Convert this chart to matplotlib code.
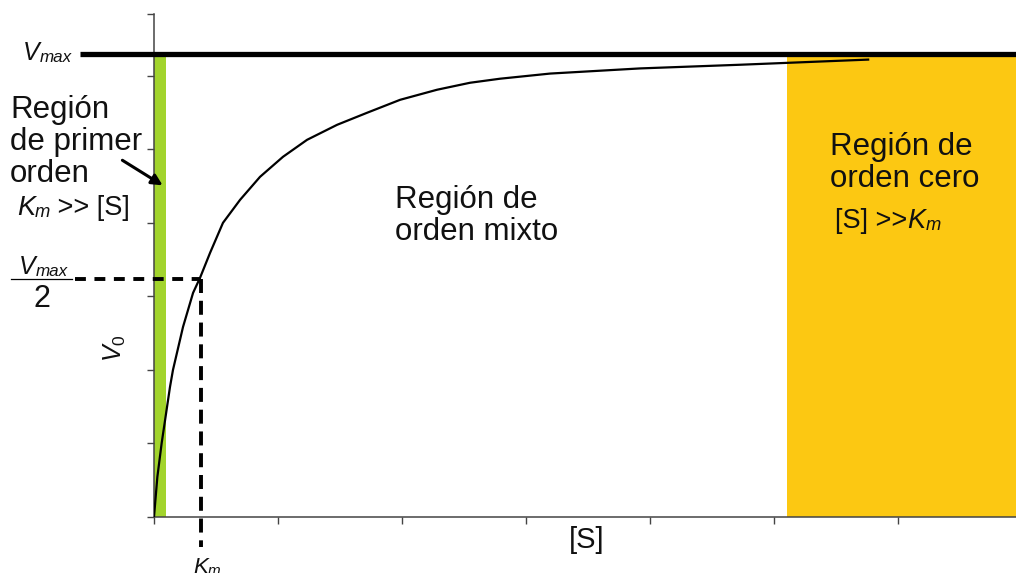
import numpy as np
import matplotlib
matplotlib.use("Agg")
import matplotlib.pyplot as plt

plt.rcParams['font.family'] = ['Liberation Sans', 'DejaVu Sans']
plt.rcParams['mathtext.fontset'] = 'custom'
plt.rcParams['mathtext.rm'] = 'Liberation Sans'
plt.rcParams['mathtext.it'] = 'Liberation Sans:italic'

# Michaelis-Menten curve, read point by point ([S] in tick units, v0 in tick units)
s_vals = [0.0, 0.027, 0.062, 0.129, 0.153, 0.234, 0.315, 0.371, 0.452, 0.556,
          0.694, 0.855, 1.040, 1.234, 1.476, 1.718, 1.984, 2.282, 2.548,
          2.790, 3.194, 3.919, 4.726, 5.758]
v_vals = [0.0, 0.544, 1.007, 1.769, 2.000, 2.585, 3.048, 3.252, 3.592, 4.000,
          4.313, 4.626, 4.898, 5.129, 5.333, 5.497, 5.673, 5.810, 5.905,
          5.960, 6.030, 6.100, 6.150, 6.220]

vmax = 6.30
km = 0.379
v_half = 3.24

first_order = (0.0, 0.097)   # green band, [S] << Km
zero_order = (5.10, 6.95)    # yellow band, [S] >> Km

x_ticks = [0, 1, 2, 3, 4, 5, 6]
y_ticks = [0, 1, 2, 3, 4, 5, 6, 6.84]

fig = plt.figure(figsize=(10.16, 5.73), dpi=100)
ax = fig.add_axes([154 / 1016, 56 / 573, 862 / 1016, 503 / 573])
ax.set_xlim(0, 6.95)
ax.set_ylim(0, 6.84)

# shaded regions
ax.fill_between(first_order, 0, vmax - 0.04, color='#a2d42c', lw=0, zorder=1)
ax.fill_between(zero_order, 0, vmax - 0.04, color='#fcc812', lw=0, zorder=1)

# Vmax asymptote
ax.plot([-0.6, zero_order[1]], [vmax, vmax], color='black', lw=3.8,
        solid_capstyle='butt', clip_on=False, zorder=4)

# saturation curve
ax.plot(s_vals, v_vals, color='black', lw=1.6, zorder=3,
        solid_joinstyle='round')

# Km / Vmax/2 guides
ax.plot([-0.64, km], [v_half, v_half], color='black', lw=2.8,
        dashes=(2.8, 2.2), clip_on=False, zorder=3)
ax.plot([km, km], [v_half, -0.41], color='black', lw=2.8,
        dashes=(3.6, 2.0), clip_on=False, zorder=3)

for side in ['top', 'right']:
    ax.spines[side].set_visible(False)
for side in ['left', 'bottom']:
    ax.spines[side].set_color('#444444')
    ax.spines[side].set_linewidth(1.1)
    ax.spines[side].set_zorder(2)
ax.set_xticks(x_ticks)
ax.set_yticks(y_ticks)
ax.set_xticklabels([])
ax.set_yticklabels([])
ax.tick_params(direction='out', length=5, width=1, color='#444444')


def sub_label(x, y, big, small, size, prefix='', suffix='', color='#111111'):
    # big italic letter followed by a smaller italic suffix on the same baseline
    if prefix:
        anchor = ax.text(x, y, prefix, fontsize=size, color=color, va='baseline')
        t = ax.annotate(big, xy=(1, 0), xycoords=anchor, fontsize=size,
                        style='italic', color=color, va='bottom')
    else:
        t = ax.text(x, y, big, fontsize=size, style='italic', color=color,
                    va='baseline')
    s = ax.annotate(small, xy=(1, 0), xycoords=t, fontsize=size * 0.68,
                    style='italic', color=color, va='bottom')
    if suffix:
        ax.annotate(suffix, xy=(1, 0), xycoords=s, fontsize=size, color=color,
                    va='bottom')


txt = '#111111'
# multi-line labels are anchored on the baseline of their last line
ax.text(-1.161, 4.558, 'Región\nde primer\norden', fontsize=22.5, color=txt,
        va='baseline', linespacing=1.08)
sub_label(-1.105, 4.109, 'K', 'm', 19.5, suffix=' >> [S]')

ax.annotate('', xy=(0.089, 4.49), xytext=(-0.274, 4.871),
            arrowprops=dict(arrowstyle='-|>', color='black', lw=2.2,
                            mutation_scale=16), annotation_clip=False, zorder=5)

ax.text(1.944, 3.769, 'Región de\norden mixto', fontsize=22.5, color=txt,
        va='baseline', linespacing=1.08)
ax.text(5.452, 4.49, 'Región de\norden cero', fontsize=22.5, color=txt,
        va='baseline', linespacing=1.08)
sub_label(5.492, 3.93, 'K', 'm', 19.5, prefix='[S] >>')

# axis annotations
sub_label(-1.056, 6.218, 'V', 'max', 18)
sub_label(-1.089, 3.306, 'V', 'max', 18)
ax.plot([-1.153, -0.661], [3.238, 3.238], color='black', lw=0.9, clip_on=False)
ax.text(-0.903, 2.857, '2', fontsize=22, color=txt, ha='center', va='baseline')
ax.text(-0.314, 2.30, r'$V_0$', fontsize=18, color=txt, rotation=90,
        ha='center', va='center')
ax.text(3.49, -0.31, '[S]', fontsize=21, color=txt, ha='center', va='center')
sub_label(0.315, -0.762, 'K', 'm', 16)

fig.savefig('out.png', dpi=100)
